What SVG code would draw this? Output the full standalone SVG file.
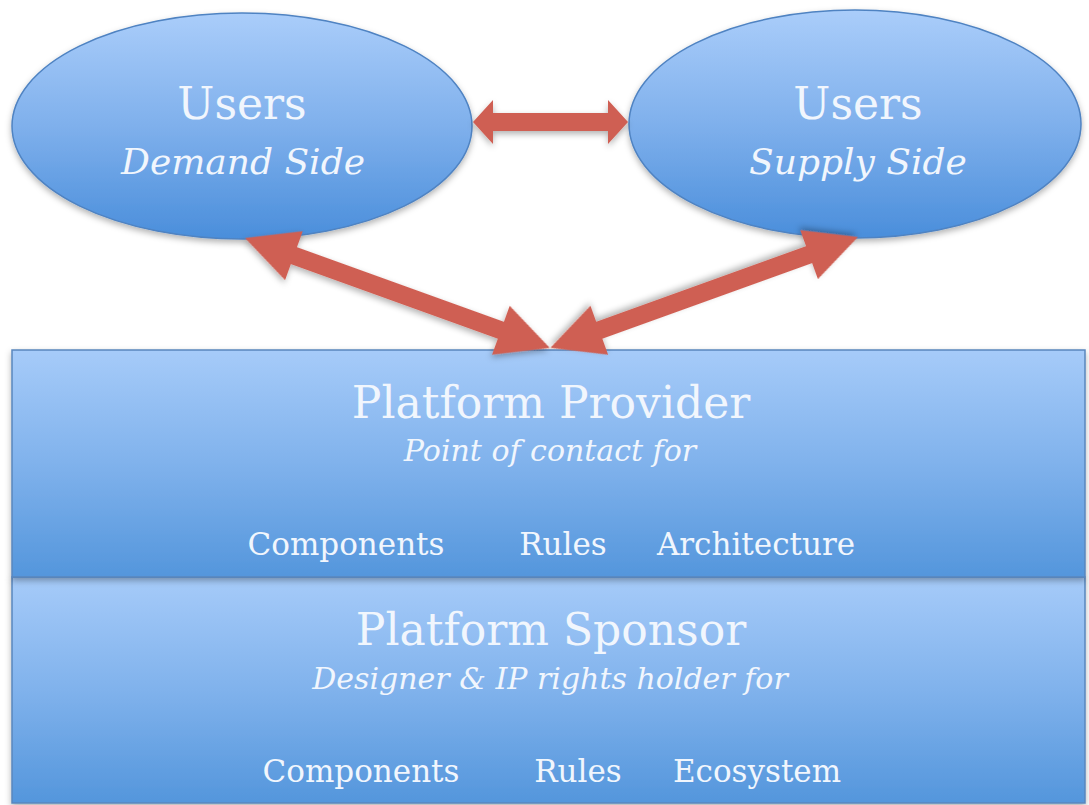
<svg xmlns="http://www.w3.org/2000/svg" width="1089" height="805" viewBox="0 0 1089 805">
<defs>
<linearGradient id="gEll" x1="0" y1="0" x2="0" y2="1">
<stop offset="0" stop-color="#aacdfa"/>
<stop offset="0.5" stop-color="#7fb0ec"/>
<stop offset="1" stop-color="#4a8edb"/>
</linearGradient>
<linearGradient id="gBox" x1="0" y1="0" x2="0" y2="1">
<stop offset="0" stop-color="#a6cbf9"/>
<stop offset="0.5" stop-color="#80b2ec"/>
<stop offset="1" stop-color="#5496dc"/>
</linearGradient>
<filter id="sh" x="-10%" y="-10%" width="120%" height="130%">
<feDropShadow dx="0" dy="3" stdDeviation="3" flood-color="#000" flood-opacity="0.3"/>
</filter>
</defs>
<style>
.ell{fill:url(#gEll);stroke:#4f83c2;stroke-width:1.5;filter:url(#sh)}
.box{fill:url(#gBox);stroke:#5a86bd;stroke-width:1.5;filter:url(#sh)}
.arr{fill:#cf5f53;filter:url(#sh)}
text{font-family:"DejaVu Serif","Liberation Serif",serif;fill:#f1f6fd;text-anchor:middle}
.t{font-size:44px}
.s{font-size:36px;font-style:italic}
.si{font-size:30px;font-style:italic}
.k{font-size:31px}
</style>
<rect width="1089" height="805" fill="#ffffff"/>
<g id="sponsor">
<rect class="box" x="12" y="577" width="1073" height="226"/>
<text class="t" x="551" y="645">Platform Sponsor</text>
<text class="si" x="550" y="689">Designer &amp; IP rights holder for</text>
<text class="k" x="361" y="782">Components</text>
<text class="k" x="578" y="782">Rules</text>
<text class="k" x="757" y="782">Ecosystem</text>
</g>
<g id="provider">
<rect class="box" x="12" y="350" width="1073" height="227"/>
<text class="t" x="551" y="418">Platform Provider</text>
<text class="si" x="550" y="461">Point of contact for</text>
<text class="k" x="346" y="555">Components</text>
<text class="k" x="563" y="555">Rules</text>
<text class="k" x="756" y="555">Architecture</text>
</g>
<g id="demand">
<ellipse class="ell" cx="242" cy="126" rx="230" ry="113"/>
<text class="t" x="242" y="119">Users</text>
<text class="s" x="243" y="174">Demand Side</text>
</g>
<g id="supply">
<ellipse class="ell" cx="855" cy="124" rx="226" ry="114"/>
<text class="t" x="858" y="119">Users</text>
<text class="s" x="858" y="174">Supply Side</text>
</g>
<g id="connectors">
<polygon class="arr" transform="translate(473,122)" points="0,0 20,-22 20,-9 135,-9 135,-22 155,0 135,22 135,9 20,9 20,22"/>
<polygon class="arr" transform="translate(245,238) rotate(19.83)" points="0,0 52,-26 52,-9 272,-9 272,-26 324,0 272,26 272,9 52,9 52,26"/>
<polygon class="arr" transform="translate(858,237) rotate(160.18)" points="0,0 52,-26 52,-9 275,-9 275,-26 327,0 275,26 275,9 52,9 52,26"/>
</g>
</svg>
